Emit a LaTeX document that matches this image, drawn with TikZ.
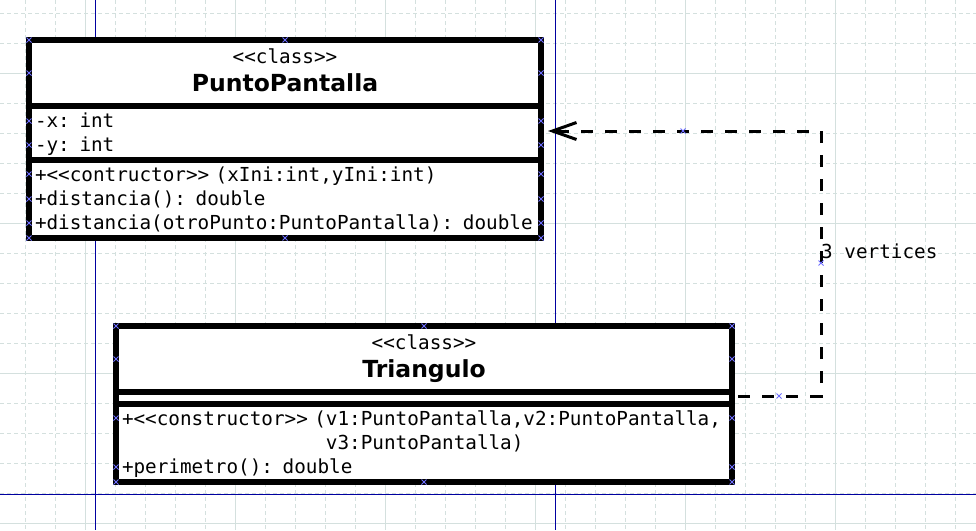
\documentclass[tikz,border=0pt]{standalone}
\usepackage{fontspec}
\usepackage{tikz}
\usetikzlibrary{positioning, arrows.meta}

\newfontfamily\umlsans{DejaVu Sans}
\newfontfamily\umlmono{DejaVu Sans Mono}[Ligatures=TeXOff, WordSpace={1,0,0}]
\newcommand{\namefont}{\umlsans\bfseries\fontsize{23.5}{28}\selectfont}
\newcommand{\memberfont}{\umlmono\mdseries\fontsize{19.3}{24}\selectfont}

\definecolor{gridline}{RGB}{212,224,222}
\definecolor{guideblue}{RGB}{0,0,160}
\definecolor{handleblue}{RGB}{110,110,255}

\begin{document}
\begin{tikzpicture}[x=1pt, y=-1pt,
    minorgrid/.style={gridline, line width=1pt, dash pattern=on 4pt off 3pt},
    majorgrid/.style={gridline, line width=1pt},
    guide/.style={guideblue, line width=1pt},
    handle/.style={handleblue, line width=0.8pt},
    compart/.style={draw, fill=white, line width=6pt, rectangle, outer sep=0pt, inner sep=0pt},
    classhead/.style={compart, minimum height=66pt, align=center, font=\namefont},
    members/.style={compart, align=left, font=\memberfont,
        execute at begin node=\rule{0pt}{19.8pt}, execute at end node=\strut},
    depend/.style={line width=3pt, dash pattern=on 12pt off 12pt,
        -{Straight Barb[length=24pt, width=17pt]}, shorten >=7pt, shorten <=6pt},
    lbl/.style={font=\memberfont, inner sep=0pt}]

    \useasboundingbox (0,0) rectangle (976,530);

    \foreach \gx in {25,55,...,955} \draw[minorgrid] (\gx,0) -- (\gx,530);
    \foreach \gy in {13,43,...,523} \draw[minorgrid] (0,\gy) -- (976,\gy);
    \foreach \gx in {85,235,...,835} \draw[majorgrid] (\gx,0) -- (\gx,530);
    \foreach \gy in {73,223,373,523} \draw[majorgrid] (0,\gy) -- (976,\gy);

    \draw[guide] (95,0) -- (95,530);
    \draw[guide] (555,0) -- (555,530);
    \draw[guide] (0,494) -- (976,494);

    \node[classhead, minimum width=512pt, text width=500pt, anchor=north west]
        (PPhead) at (29,40) {{\memberfont\strut<<class>>}\\PuntoPantalla\strut};
    \node[members, minimum width=512pt, minimum height=54pt, text width=500pt]
        (PPattr) [below= 0pt of PPhead] {-x: int\\-y: int};
    \node[members, minimum width=512pt, minimum height=78pt, text width=500pt]
        (PPops) [below= 0pt of PPattr] {+<<contructor>> (xIni:int,yIni:int)\\+distancia(): double\\+distancia(otroPunto:PuntoPantalla): double};

    \node[classhead, minimum width=616pt, text width=604pt, anchor=north west]
        (Thead) at (116,326) {{\memberfont\strut<<class>>}\\Triangulo\strut};
    \node[compart, minimum width=616pt, minimum height=12pt]
        (Tattr) [below= 0pt of Thead] {};
    \node[members, minimum width=616pt, minimum height=78pt, text width=604pt]
        (Tops) [below= 0pt of Tattr] {+<<constructor>> (v1:PuntoPantalla,v2:PuntoPantalla,\\\phantom{+<<constructor>> (}v3:PuntoPantalla)\\+perimetro(): double};

    \node[lbl, anchor=base west] (verts) at (821,258) {3 vertices};

    \draw[depend] ([yshift=2pt]Tattr.east) -| (verts.base west) |- ([yshift=2pt]PPattr.east);

    \foreach \hy in {40,73,121,145,174,199,223,238}
        \foreach \hx in {29,541}
            \draw[handle] (\hx-2.5,\hy-2.5) -- (\hx+2.5,\hy+2.5) (\hx-2.5,\hy+2.5) -- (\hx+2.5,\hy-2.5);
    \foreach \hy in {326,359,418,467,482}
        \foreach \hx in {116,732}
            \draw[handle] (\hx-2.5,\hy-2.5) -- (\hx+2.5,\hy+2.5) (\hx-2.5,\hy+2.5) -- (\hx+2.5,\hy-2.5);
    \foreach \hx/\hy in {285/40, 285/238, 424/326, 424/482, 683/131, 821/263, 779/396}
        \draw[handle] (\hx-2.5,\hy-2.5) -- (\hx+2.5,\hy+2.5) (\hx-2.5,\hy+2.5) -- (\hx+2.5,\hy-2.5);
\end{tikzpicture}
\end{document}
